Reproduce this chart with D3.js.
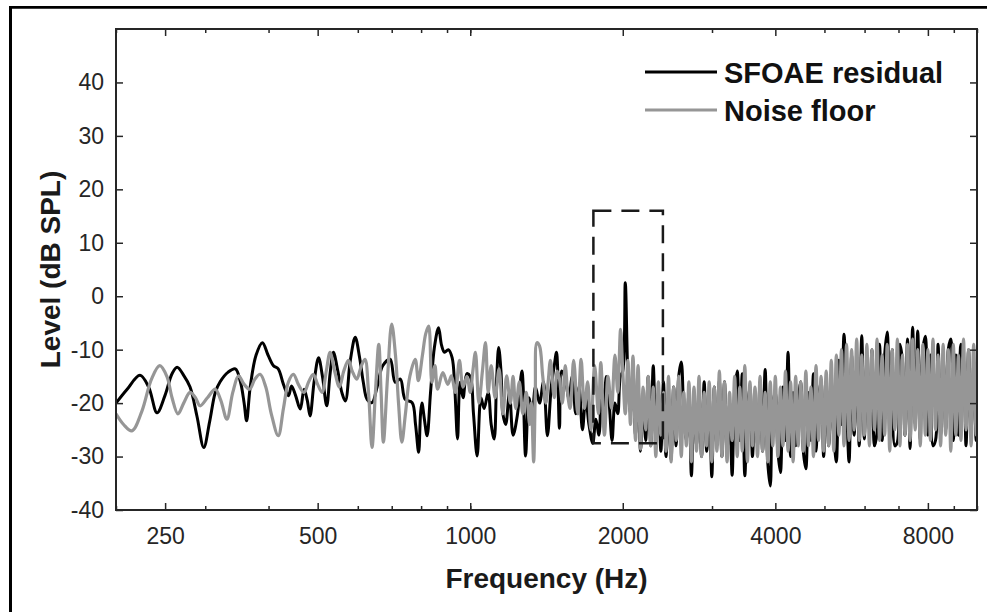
<!DOCTYPE html>
<html><head><meta charset="utf-8">
<script src="https://cdn.jsdelivr.net/npm/d3@7"></script>
<style>
html,body{margin:0;padding:0;background:#fff;}
svg{display:block;font-family:"Liberation Sans",Arial,sans-serif;}
</style></head>
<body><svg id="chart" width="987" height="612"></svg>
<script>
// ---------- data ----------
const xTickLabels = [250, 500, 1000, 2000, 4000, 8000];
const xMinorTicks = [200,300,400,600,700,800,900,1000,3000,5000,6000,7000,9000,10000];
const yTickLabels = [-40,-30,-20,-10,0,10,20,30,40];
const seriesNames = ["SFOAE residual", "Noise floor"];

// SFOAE residual, 200–2000 Hz
const residualFreq = [200,210,223,232,241,250,258,264,272,280,289,298,306,314,321,333,344,352,358,362,368,378,389,399,409,418,428,438,444,452,462,470,477,483,492,502,511,521,529,537,548,558,567,580,593,605,615,626,640,655,672,695,711,728,744,768,780,791,798,803,812,822,835,850,866,878,890,905,921,932,944,955,968,985,1000,1015,1032,1050,1065,1085,1100,1115,1127,1138,1150,1160,1175,1195,1215,1240,1265,1286,1305,1325,1345,1370,1395,1420,1445,1465,1480,1500,1515,1540,1565,1590,1615,1640,1665,1690,1715,1745,1770,1795,1815,1835,1855,1880,1905,1930,1955,1978];
const residualLevel = [-20,-17.5,-14.8,-17,-21.8,-18.5,-14.5,-13.3,-14.8,-17,-22.5,-28.3,-23.5,-18,-16,-14.2,-13.6,-16,-20,-23.3,-17,-11,-8.7,-11,-13,-13.6,-16.5,-18.6,-16.8,-18.5,-21.1,-17.4,-19.5,-22.4,-16,-11.5,-15,-20.5,-14.5,-10.5,-14,-18,-19.6,-12,-7.7,-11.5,-16,-19.3,-19.9,-17,-13,-11.8,-16.1,-15.5,-19.3,-19.9,-24,-29.2,-22,-20,-23,-26.1,-18,-9.5,-5.9,-9.2,-10.5,-10,-11.5,-17,-26.7,-16.1,-19,-14.5,-15,-22,-29.9,-19,-21,-18,-24,-26.7,-16,-9.6,-14,-22,-24,-18,-26,-22,-14,-29.9,-19,-22,-17,-20,-16,-26.1,-17,-13,-10.5,-24.7,-14,-15.5,-19,-15,-22,-17,-25,-19,-24,-27.5,-23,-26,-17,-22,-15,-20,-27,-20,-22,-15];

// Noise floor, 200–2000 Hz
const noiseFreq = [200,207,215,225,235,244,252,258,265,272,280,287,293,303,314,322,331,340,349,358,367,376,385,395,405,418,428,438,448,458,470,480,490,500,510,520,529,540,552,563,575,585,597,610,620,630,640,650,660,667,674,687,700,712,722,733,745,760,779,790,805,817,828,840,852,862,883,903,918,935,952,968,985,1000,1012,1024,1040,1057,1072,1085,1100,1120,1140,1160,1180,1200,1215,1230,1250,1270,1290,1310,1320,1334,1344,1354,1370,1390,1410,1425,1440,1465,1485,1500,1520,1540,1560,1575,1600,1630,1655,1680,1705,1730,1760,1790,1810,1840,1870,1900,1930,1955,1980];
const noiseLevel = [-22,-24,-25.2,-21.5,-15.5,-13,-15,-19,-22,-20,-18,-19,-20.5,-19,-17.4,-19.5,-23,-18,-14.9,-16.5,-17.4,-15.5,-14.6,-17,-22,-26.1,-21,-16,-14.6,-16.5,-18,-16,-14.6,-16.5,-18,-14,-10.5,-14,-17,-14,-12,-14,-15.5,-13,-11.8,-18,-28.3,-18,-9,-18,-27.3,-15,-5.2,-11,-20,-27.3,-22,-15,-11.8,-15.8,-11,-7,-5.6,-16.1,-13,-17.4,-14.3,-16.5,-14.9,-18,-12,-17,-15,-18,-14,-10.5,-20,-14,-8.7,-18,-13,-19,-13.6,-22,-14.9,-20,-15,-21,-16,-22,-18,-24,-20,-31,-18,-8.7,-9.3,-14.9,-20,-16,-12,-19,-14,-15.5,-20,-13,-19,-21,-12,-22,-11.8,-21,-16,-25,-13,-22,-12.4,-26,-15,-21,-11,-18,-6.2];

// Dense spectrum bins, 2000–10000 Hz (shared by both traces)
const denseFreq = [2000,2023,2047,2071,2095,2119,2144,2168,2194,2219,2245,2271,2297,2324,2351,2378,2406,2434,2462,2491,2520,2549,2579,2609,2639,2670,2701,2732,2764,2796,2828,2861,2895,2928,2962,2997,3031,3067,3102,3138,3175,3212,3249,3287,3325,3364,3403,3442,3482,3523,3564,3605,3647,3689,3732,3775,3819,3864,3909,3954,
4000,4046,4094,4141,4189,4238,4287,4337,4387,4438,4490,4542,4595,4648,4702,4757,4812,4868,4924,4982,5040,5098,5158,5217,5278,5339,5402,5464,5528,5592,5657,5722,5789,5856,5924,5993,6063,6133,6204,6277,6350,6423,6498,6574,6650,6727,6805,6885,6965,7045,7127,7210,7294,7378,7464,7551,7639,7728,7817,7908,
8000,8093,8187,8282,8379,8476,8574,8674,8775,8877,8980,9084,9190,9297,9405,9514,9624,9736,9850,9964,10079];
const residualDense = [-14,2.5,-15,-22,-14,-26,-17,-29,-19,-27,
-15,-28,-13,-25,-18,-29,-16,-30,-20,-30.5,
-17,-28,-15,-12.3,-22,-27,-18,-33.6,-20,-28,
-18,-30,-16,-29,-19,-33.8,-17,-28,-15.8,-30,
-16,-29,-20,-33.5,-18,-14,-27,-14.5,-33.6,-21,
-17,-30,-19,-28,-16,-29,-13.7,-31,-35.5,-20,
-18,-29,-33,-17,-27,-10.5,-30,-18,-28,-20,
-16,-29,-32.3,-18,-27,-14.5,-29,-19,-16,-30,
-17,-28,-20,-26,-31,-12,-24,-7.1,-20,-31,
-11,-26,-14,-28,-7.4,-26.7,-12,-25,-10,-28,
-25.5,-9,-27,-11,-6.7,-26,-10,-28,-27.3,-9,
-12,-26,-8,-28.5,-5.8,-24,-6.5,-27,-10,-7.5,
-26,-11,-28,-27,-9,-26,-12,-25,-10,-8,
-27,-11,-26,-9,-12,-28,-10,-25,-13,-27,-14];
const noiseDense = [-14,-22,-12,-24,-11.2,-27,-13,-28.6,-17,-25,
-15,-28,-17,-30,-16,-26,-18,-29,-15,-31,
-17,-27,-15,-30,-18,-28,-16,-31,-17,-29,
-15,-30,-18,-28,-16,-31,-17,-29,-14,-30,
-16,-31,-18,-27,-15,-30,-17,-29,-13,-31,
-16,-28,-17,-30,-15,-29,-18,-31,-16,-28,
-15,-30,-17,-28,-14,-29,-16,-31,-15,-28,
-16,-29,-14,-28,-17,-30,-13,-27,-15,-29,
-14,-28,-12,-29,-11,-26,-10,-28,-9,-27,
-10,-25,-8,-27,-11,-26,-9,-28,-10,-25,
-8,-27,-11,-26,-9,-29,-10,-25,-8,-28,
-11,-26,-9,-27,-8,-25,-10,-28,-9,-26,
-10,-27,-8,-25,-11,-28,-9,-26,-10,-29,
-9,-26,-11,-27,-8,-25,-10,-28,-9,-26,-8];

// analysis window (dashed box): frequency and level bounds
const boxFreq = [1750, 2400];
const boxLevel = [-27.5, 16];

// ---------- chart ----------
const svg = d3.select("#chart");
const pL = 116, pR = 977, pT = 29, pB = 510;
const x = d3.scaleLog().domain([200, 10000]).range([pL, pR]);
const y = d3.scaleLinear().domain([-40, 50]).range([pB, pT]);
const axisColor = "#262626";

// outer frame (left & top edges visible)
svg.append("line").attr("x1",10.5).attr("x2",10.5).attr("y1",6).attr("y2",612).attr("stroke","#000").attr("stroke-width",3);
svg.append("line").attr("x1",9).attr("x2",987).attr("y1",7.3).attr("y2",7.3).attr("stroke","#000").attr("stroke-width",2.8);

svg.append("clipPath").attr("id","clip").append("rect")
  .attr("x",pL).attr("y",pT).attr("width",pR-pL).attr("height",pB-pT);

const residual = residualFreq.map((f,i)=>({f, v: residualLevel[i]}))
  .concat(denseFreq.map((f,i)=>({f, v: residualDense[i]})));
const noise = noiseFreq.map((f,i)=>({f, v: noiseLevel[i]}))
  .concat(denseFreq.map((f,i)=>({f, v: noiseDense[i]})));

const line = d3.line().x(d=>x(d.f)).y(d=>y(d.v)).curve(d3.curveCatmullRom.alpha(0.5));
const plot = svg.append("g").attr("clip-path","url(#clip)");
plot.append("path").datum(residual).attr("d",line).attr("fill","none")
  .attr("stroke","#000").attr("stroke-width",3).attr("stroke-linejoin","round");
plot.append("path").datum(noise).attr("d",line).attr("fill","none")
  .attr("stroke","#969696").attr("stroke-width",3.2).attr("stroke-linejoin","round");

// dashed analysis box
svg.append("rect")
  .attr("x",x(boxFreq[0])).attr("y",y(boxLevel[1]))
  .attr("width",x(boxFreq[1])-x(boxFreq[0])).attr("height",y(boxLevel[0])-y(boxLevel[1]))
  .attr("fill","none").attr("stroke","#1a1a1a").attr("stroke-width",2.5).attr("stroke-dasharray","18,10");

// axes
function styleAxis(g){
  g.select(".domain").remove();
  g.selectAll(".tick line").attr("stroke",axisColor).attr("stroke-width",1.5);
  g.selectAll("text").attr("fill",axisColor).style("font-size","23px").style("font-family","'Liberation Sans',Arial,sans-serif");
}
const fmt = d => String(d);
svg.append("g").attr("transform",`translate(0,${pB})`)
  .call(d3.axisBottom(x).tickValues(xTickLabels).tickFormat(fmt).tickSize(-7).tickPadding(18)).call(styleAxis);
svg.append("g").attr("transform",`translate(0,${pB})`)
  .call(d3.axisBottom(x).tickValues(xMinorTicks).tickFormat("").tickSize(-4)).call(styleAxis);
svg.append("g").attr("transform",`translate(0,${pT})`)
  .call(d3.axisTop(x).tickValues(xTickLabels).tickFormat("").tickSize(-7)).call(styleAxis);
svg.append("g").attr("transform",`translate(0,${pT})`)
  .call(d3.axisTop(x).tickValues(xMinorTicks).tickFormat("").tickSize(-4)).call(styleAxis);
svg.append("g").attr("transform",`translate(${pL},0)`)
  .call(d3.axisLeft(y).tickValues(yTickLabels).tickFormat(fmt).tickSize(-7).tickPadding(12)).call(styleAxis);
svg.append("g").attr("transform",`translate(${pR},0)`)
  .call(d3.axisRight(y).tickValues(yTickLabels).tickFormat("").tickSize(-7)).call(styleAxis);

// plot box
svg.append("rect").attr("x",pL).attr("y",pT).attr("width",pR-pL).attr("height",pB-pT)
  .attr("fill","none").attr("stroke",axisColor).attr("stroke-width",2);

// axis titles
svg.append("text").attr("x",(pL+pR)/2).attr("y",588).attr("text-anchor","middle")
  .style("font-size","28px").style("font-weight","bold").attr("fill","#1a1a1a").text("Frequency (Hz)");
svg.append("text").attr("transform",`translate(60,${(pT+pB)/2}) rotate(-90)`).attr("text-anchor","middle")
  .style("font-size","28px").style("font-weight","bold").attr("fill","#1a1a1a").text("Level (dB SPL)");

// legend
const legendColors = ["#000","#969696"];
const legY = [72, 110];
seriesNames.forEach((name,i)=>{
  svg.append("line").attr("x1",645).attr("x2",717).attr("y1",legY[i]).attr("y2",legY[i])
    .attr("stroke",legendColors[i]).attr("stroke-width",3);
  svg.append("text").attr("x",724).attr("y",legY[i]+11).style("font-size","29px").style("font-weight","bold")
    .attr("fill","#111").text(name);
});
</script></body></html>
